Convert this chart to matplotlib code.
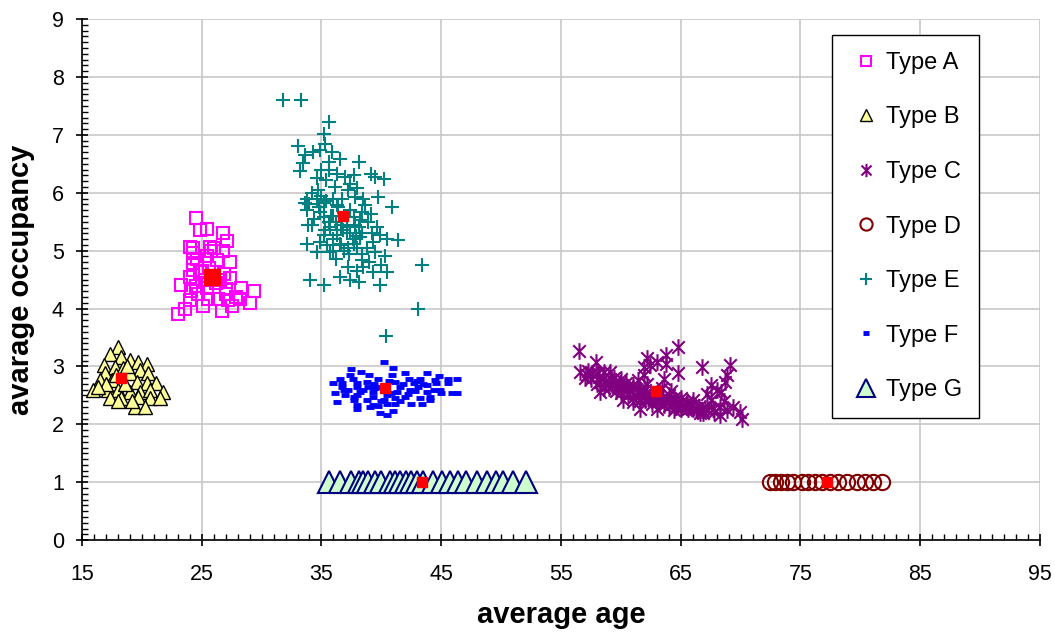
import matplotlib
matplotlib.use("Agg")
import matplotlib.pyplot as plt
from matplotlib.path import Path
from matplotlib.ticker import MultipleLocator

plt.rcParams['font.family'] = ['Liberation Sans', 'DejaVu Sans']

# Type A
a_x = [24.5, 24.86, 25.4, 26.8, 27.1, 24.0, 24.25, 25.7, 25.8, 25.4, 26.25, 27.4, 24.25, 24.3, 24.86,
       24.0, 27.4, 23.3, 24.5, 25.4, 27.0, 28.3, 29.4, 24.0, 25.55, 26.4, 27.2, 28.2, 29.0, 23.6,
       25.1, 26.7, 27.5, 23.05, 24.3, 26.0, 26.8, 25.0, 26.5, 27.0, 24.7, 24.1, 25.3, 26.2, 25.6,
       24.6, 26.9, 27.9]
a_y = [5.57, 5.35, 5.38, 5.30, 5.16, 5.07, 4.96, 5.07, 4.99, 4.90, 4.84, 4.80, 4.78, 4.66, 4.63,
       4.55, 4.52, 4.40, 4.39, 4.36, 4.33, 4.35, 4.31, 4.15, 4.16, 4.16, 4.15, 4.17, 4.09, 4.00,
       4.04, 3.95, 4.04, 3.90, 5.05, 5.05, 5.00, 4.65, 4.50, 4.25, 4.25, 4.30, 4.50, 4.45, 4.70,
       4.85, 4.60, 4.20]

# Type B
b_x = [18.0, 17.3, 18.3, 19.0, 19.7, 20.4, 16.8, 17.75, 18.4, 19.85, 16.9, 19.0, 20.5, 16.5, 17.5,
       19.6, 20.4, 21.2, 15.95, 17.2, 18.0, 19.0, 19.85, 20.7, 21.8, 17.3, 18.3, 19.7, 20.7, 21.5,
       19.4, 20.3, 17.8, 18.6, 17.0, 18.8, 16.3, 19.2, 18.0]
b_y = [3.34, 3.22, 3.17, 3.11, 3.08, 3.05, 3.02, 2.99, 2.97, 2.94, 2.88, 2.88, 2.88, 2.76, 2.76,
       2.73, 2.71, 2.71, 2.59, 2.59, 2.59, 2.56, 2.56, 2.59, 2.56, 2.45, 2.45, 2.48, 2.45, 2.45,
       2.30, 2.30, 2.85, 2.70, 2.70, 3.00, 2.65, 2.40, 2.40]

# Type C
c_x = [56.5, 57.9, 56.6, 57.2, 58.1, 59.1, 58.3, 59.25, 59.9, 58.3, 60.5, 61.6, 62.2, 63.0, 63.8,
       64.8, 61.9, 62.45, 63.8, 61.9, 63.6, 64.8, 66.8, 69.1, 68.85, 68.7, 67.5, 68.4, 67.2, 67.5,
       62.45, 63.3, 64.4, 65.5, 61.6, 63.0, 65.0, 66.35, 67.7, 68.85, 69.96, 68.3, 70.1, 66.9, 60.2,
       61.05, 64.4, 65.8, 58.5, 59.5, 60.5, 61.0, 61.5, 62.0, 62.5, 63.0, 63.5, 64.0, 64.5, 65.0,
       65.5, 66.0, 66.5, 67.0, 60.0, 59.0, 62.0, 63.0, 64.0, 65.0, 66.0, 61.0, 58.0, 57.5, 57.0,
       60.0, 61.0, 62.0, 63.0, 64.0, 65.0, 66.0,
       57.6, 58.2, 58.8, 59.3, 59.8, 60.3, 60.8, 61.3, 61.8, 62.3, 62.8, 63.3, 63.8, 64.3,
       64.8, 65.3, 65.8, 66.3, 66.8, 67.3, 67.8, 68.3, 57.3, 58.6, 59.6, 60.6, 61.6, 62.6,
       63.6, 64.6, 65.6, 66.6, 62.2, 61.4, 60.4, 59.4, 58.6, 63.4, 64.2, 68.0, 68.6, 69.4]
c_y = [3.27, 3.08, 2.91, 2.85, 2.88, 2.91, 2.73, 2.76, 2.71, 2.56, 2.62, 2.59, 3.14, 3.08, 3.20,
       3.34, 2.99, 3.02, 3.05, 2.85, 2.79, 2.88, 2.99, 3.02, 2.85, 2.73, 2.68, 2.56, 2.53, 2.42,
       2.48, 2.42, 2.45, 2.39, 2.27, 2.27, 2.27, 2.25, 2.27, 2.25, 2.22, 2.16, 2.10, 2.19, 2.42,
       2.39, 2.25, 2.33, 2.80, 2.72, 2.65, 2.62, 2.55, 2.52, 2.50, 2.47, 2.45, 2.42, 2.40, 2.38,
       2.35, 2.33, 2.30, 2.28, 2.55, 2.62, 2.42, 2.38, 2.32, 2.30, 2.26, 2.45, 2.70, 2.78, 2.80,
       2.78, 2.68, 2.60, 2.55, 2.50, 2.45, 2.42,
       2.88, 2.82, 2.75, 2.68, 2.66, 2.60, 2.57, 2.50, 2.47, 2.45, 2.44, 2.40, 2.38, 2.36,
       2.34, 2.32, 2.30, 2.28, 2.25, 2.24, 2.22, 2.30, 2.92, 2.62, 2.58, 2.50, 2.40, 2.36,
       2.33, 2.30, 2.27, 2.20, 2.70, 2.76, 2.72, 2.80, 2.90, 2.62, 2.58, 2.60, 2.40, 2.30]

# Type D
d_x = [72.5, 72.9, 73.35, 73.9, 74.4, 75.1, 75.6, 76.2, 76.8, 77.5, 78.1, 78.9, 79.7, 80.4, 81.1, 81.8]
d_y = [1.0, 1.0, 1.0, 1.0, 1.0, 1.0, 1.0, 1.0, 1.0, 1.0, 1.0, 1.0, 1.0, 1.0, 1.0, 1.0]

# Type E
e_x = [31.8, 33.3, 35.6, 35.2, 35.3, 33.0, 33.6, 34.3, 34.9, 36.55, 38.1, 33.5, 35.6, 33.2, 35.6,
       34.6, 36.3, 37.0, 37.7, 39.1, 39.5, 40.2, 35.4, 34.7, 37.95, 33.8, 34.6, 36.0, 36.7, 37.8,
       39.75, 33.6, 35.2, 36.3, 38.6, 40.9, 33.8, 34.9, 38.4, 39.1, 35.2, 37.7, 38.2, 34.2, 35.7,
       37.1, 38.1, 39.6, 35.2, 36.3, 37.4, 38.2, 39.9, 40.45, 41.4, 33.8, 36.55, 37.7, 39.3, 34.6,
       35.7, 37.25, 38.4, 39.5, 40.3, 38.4, 37.25, 38.5, 40.0, 43.4, 39.3, 40.45, 34.05, 36.55, 37.4,
       38.1, 35.2, 39.9, 43.1, 40.4, 35.8, 36.2, 36.8, 37.4, 35.5, 36.9, 37.9, 36.4, 34.4, 38.9,
       35.0, 37.2,
       34.0, 34.8, 35.4, 36.0, 36.6, 37.1, 37.6, 38.0, 35.3, 36.0, 36.6, 37.3, 38.8, 39.2, 38.5,
       37.4, 36.1, 35.0, 34.2, 33.9, 34.9, 36.2, 38.0, 39.0, 35.9, 36.0, 37.8, 38.4, 35.6, 36.3]
e_y = [7.61, 7.61, 7.23, 7.01, 6.85, 6.80, 6.65, 6.71, 6.74, 6.59, 6.53, 6.51, 6.53, 6.38, 6.39,
       6.25, 6.33, 6.28, 6.30, 6.33, 6.28, 6.24, 6.22, 6.05, 6.08, 5.90, 5.90, 5.90, 5.90, 5.93,
       5.93, 5.82, 5.82, 5.79, 5.79, 5.75, 5.70, 5.67, 5.67, 5.64, 5.58, 5.58, 5.53, 5.44, 5.41,
       5.41, 5.41, 5.41, 5.27, 5.27, 5.30, 5.24, 5.27, 5.21, 5.18, 5.12, 5.12, 5.12, 5.15, 4.98,
       4.98, 5.04, 4.95, 4.98, 4.90, 4.84, 4.72, 4.72, 4.75, 4.75, 4.64, 4.64, 4.49, 4.55, 4.49,
       4.46, 4.40, 4.40, 4.00, 3.52, 5.60, 5.50, 5.35, 5.70, 5.10, 5.00, 5.25, 5.75, 5.55, 5.50,
       6.40, 6.05,
       5.80, 5.75, 5.85, 5.60, 5.45, 5.30, 5.20, 5.05, 5.35, 5.20, 5.10, 4.95, 5.05, 5.30, 5.90,
       6.15, 6.10, 5.95, 6.00, 5.45, 5.15, 4.85, 4.65, 4.80, 6.70, 5.00, 5.45, 5.30, 5.50, 5.35]

# Type F
f_x = [40.2, 37.5, 38.3, 41.0, 42.0, 43.8, 37.4, 40.9, 44.8, 36.55, 39.75, 42.3, 43.2, 44.5, 45.6,
       46.3, 36.0, 36.7, 37.95, 38.8, 41.15, 42.7, 43.5, 44.6, 45.6, 36.7, 37.95, 38.9, 39.75, 41.55,
       43.1, 43.8, 37.2, 38.2, 39.3, 41.3, 42.4, 43.8, 44.9, 36.1, 37.0, 37.7, 39.3, 40.45, 42.0,
       43.2, 44.1, 45.9, 46.3, 37.7, 38.8, 40.2, 41.15, 36.3, 37.95, 39.3, 40.45, 41.15, 43.4, 44.1,
       37.95, 39.05, 39.75, 41.0, 39.9, 40.45,
       38.5, 39.5, 40.8, 41.8, 42.8, 37.6, 39.0, 40.6, 42.2, 44.4, 38.0, 41.6, 43.0, 45.0, 36.9,
       40.0, 39.4, 42.5]
f_y = [3.08, 2.95, 2.91, 2.97, 2.88, 2.88, 2.85, 2.85, 2.83, 2.79, 2.79, 2.79, 2.78, 2.76, 2.79,
       2.79, 2.72, 2.71, 2.72, 2.74, 2.74, 2.71, 2.69, 2.71, 2.71, 2.65, 2.64, 2.65, 2.65, 2.65,
       2.65, 2.68, 2.59, 2.56, 2.56, 2.56, 2.59, 2.56, 2.60, 2.54, 2.50, 2.48, 2.48, 2.50, 2.48,
       2.45, 2.48, 2.54, 2.54, 2.42, 2.42, 2.42, 2.45, 2.39, 2.33, 2.33, 2.36, 2.36, 2.36, 2.42,
       2.26, 2.30, 2.31, 2.23, 2.20, 2.16,
       2.60, 2.62, 2.55, 2.70, 2.58, 2.78, 2.85, 2.75, 2.52, 2.60, 2.50, 2.40, 2.75, 2.55, 2.60,
       2.40, 2.70, 2.35]

# Type G
g_x = [35.6, 36.55, 37.5, 38.1, 38.5, 38.9, 39.5, 40.0, 40.7, 41.1, 41.55, 42.1, 42.5, 42.95, 43.5,
       44.3, 45.05, 45.7, 46.4, 47.1, 47.95, 48.8, 49.6, 50.2, 51.0, 52.1]
g_y = [1.0, 1.0, 1.0, 1.0, 1.0, 1.0, 1.0, 1.0, 1.0, 1.0, 1.0, 1.0, 1.0, 1.0, 1.0,
       1.0, 1.0, 1.0, 1.0, 1.0, 1.0, 1.0, 1.0, 1.0, 1.0, 1.0]

# group means (red squares)
mean_x = [25.9, 18.3, 62.9, 77.2, 36.8, 40.3, 43.4]
mean_y = [4.54, 2.80, 2.57, 1.00, 5.60, 2.62, 1.00]
mean_size = [12, 7, 7, 7, 7, 7, 7]

x_ticks = [15, 25, 35, 45, 55, 65, 75, 85, 95]

asterisk = Path([(0, -1), (0, 1), (-0.75, -0.75), (0.75, 0.75), (-0.75, 0.75), (0.75, -0.75)],
                [Path.MOVETO, Path.LINETO, Path.MOVETO, Path.LINETO, Path.MOVETO, Path.LINETO])

fig = plt.figure(figsize=(10.55, 6.37), dpi=100)
ax = fig.add_axes([0.0777, 0.152, 0.908, 0.818])

ax.plot(a_x, a_y, ls='none', marker='s', ms=8.5, mfc='none', mec='#FF00FF', mew=1.5, label='Type A')
ax.plot(b_x, b_y, ls='none', marker='^', ms=10, mfc='#FFFF99', mec='black', mew=1.0, label='Type B')
ax.plot(c_x, c_y, ls='none', marker=asterisk, ms=12, mfc='none', mec='#800080', mew=1.5, label='Type C')
ax.plot(d_x, d_y, ls='none', marker='o', ms=11, mfc='none', mec='#800000', mew=1.5, label='Type D')
ax.plot(e_x, e_y, ls='none', marker='+', ms=10, mec='#008080', mew=1.5, label='Type E')
ax.plot(f_x, f_y, ls='none', marker='_', ms=6, mec='#0000FF', mew=3.5, label='Type F')
ax.plot(g_x, g_y, ls='none', marker='^', ms=16, mfc='#CCFFCC', mec='#000080', mew=1.5, label='Type G')

for mx, my, ms in zip(mean_x, mean_y, mean_size):
    ax.plot(mx, my, ls='none', marker='s', ms=ms, mfc='red', mec='red', zorder=5)

ax.set_xlim(15, 95)
ax.set_ylim(0, 9)
ax.set_xticks(x_ticks)
ax.xaxis.set_minor_locator(MultipleLocator(1))
ax.yaxis.set_major_locator(MultipleLocator(1))
ax.yaxis.set_minor_locator(MultipleLocator(0.1))
ax.grid(True, which='major', color='#c8c8c8', lw=1.2, zorder=0)
ax.set_axisbelow(True)
ax.spines['top'].set_visible(False)
ax.spines['right'].set_visible(False)
for s in ['left', 'bottom']:
    ax.spines[s].set_linewidth(1.2)
ax.tick_params(which='major', direction='inout', length=8, width=1.2, labelsize=15.5)
ax.tick_params(which='minor', direction='in', length=4, width=1.0)
ax.tick_params(axis='x', which='major', pad=13)
ax.tick_params(axis='y', which='major', pad=9)

ax.set_xlabel('average age', fontsize=21, fontweight='bold', labelpad=12)
ax.set_ylabel('avarage occupancy', fontsize=21, fontweight='bold', labelpad=12)

leg = ax.legend(loc='upper left', bbox_to_anchor=(0.783, 0.969), fontsize=17,
                labelspacing=1.38, handlelength=1.5, handletextpad=0.1, borderpad=0.7,
                borderaxespad=0, fancybox=False, framealpha=1, edgecolor='black', markerscale=0.8)
leg.get_frame().set_linewidth(1.0)

fig.savefig('out.png', dpi=100)
